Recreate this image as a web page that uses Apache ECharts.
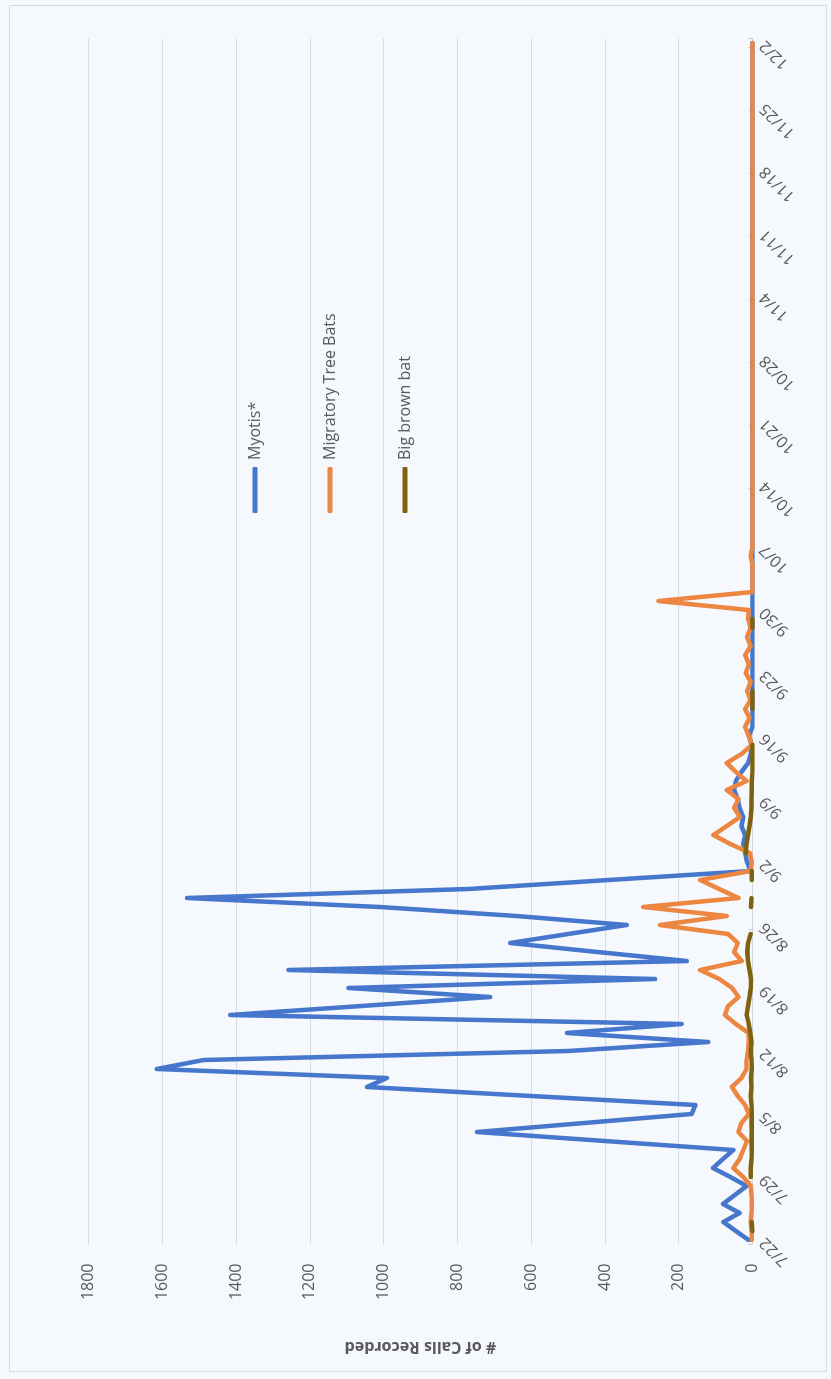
<!DOCTYPE html>
<html>
<head>
<meta charset="utf-8">
<script src="https://cdn.jsdelivr.net/npm/echarts@6/dist/echarts.min.js"></script>
<style>
  html, body { margin: 0; padding: 0; background: #f5f8fd; overflow: hidden; }
  /* The chart is laid out landscape and turned a quarter turn counter-clockwise onto the page */
  #chart {
    position: absolute; left: 0; top: 0;
    width: 1379px; height: 831px;
    transform-origin: 0 0;
    transform: translateY(1379px) rotate(-90deg);
  }
</style>
</head>
<body>
<div id="chart"></div>
<script>
// Nightly survey dates, 7/22 through 12/2
const dates = [
  '7/22','7/23','7/24','7/25','7/26','7/27','7/28','7/29','7/30','7/31',
  '8/1','8/2','8/3','8/4','8/5','8/6','8/7','8/8','8/9','8/10','8/11','8/12','8/13','8/14','8/15','8/16',
  '8/17','8/18','8/19','8/20','8/21','8/22','8/23','8/24','8/25','8/26','8/27','8/28','8/29','8/30','8/31',
  '9/1','9/2','9/3','9/4','9/5','9/6','9/7','9/8','9/9','9/10','9/11','9/12','9/13','9/14','9/15',
  '9/16','9/17','9/18','9/19','9/20','9/21','9/22','9/23','9/24','9/25','9/26','9/27','9/28','9/29','9/30',
  '10/1','10/2','10/3','10/4','10/5','10/6','10/7','10/8','10/9','10/10','10/11','10/12','10/13','10/14',
  '10/15','10/16','10/17','10/18','10/19','10/20','10/21','10/22','10/23','10/24','10/25','10/26','10/27',
  '10/28','10/29','10/30','10/31',
  '11/1','11/2','11/3','11/4','11/5','11/6','11/7','11/8','11/9','11/10','11/11','11/12','11/13','11/14',
  '11/15','11/16','11/17','11/18','11/19','11/20','11/21','11/22','11/23','11/24','11/25','11/26','11/27',
  '11/28','11/29','11/30',
  '12/1','12/2'
];

// Calls recorded per night
const myotis = [
  11, 45, 79, 35, 80, 48, 16, 60, 107, 80,
  52, 400, 747, 456, 165, 155, 600, 1045, 991, 1615, 1488, 500, 120, 503, 192, 1416,
  1060, 711, 1095, 264, 1258, 178, 420, 657, 500, 341, 640, 1010, 1533, 770, 390,
  5, 15, 20, 25, 20, 30, 25, 35, 40, 50, 45, 30, 12, 5, 2,
  10, 0, 0, 0, 0, 0, 0, 0, 0, 0, 0, 0, 0, 0, 0,
  0, 0, 0, 0, 0, 0, 0, 0, 0, 0, 0, 0, 0, 0,
  0, 0, 0, 0, 0, 0, 0, 0, 0, 0, 0, 0, 0,
  0, 0, 0, 0,
  0, 0, 0, 0, 0, 0, 0, 0, 0, 0, 0, 0, 0, 0,
  0, 0, 0, 0, 0, 0, 0, 0, 0, 0, 0, 0, 0,
  0, 0, 0,
  0, 0
];

const migratoryTree = [
  2, 3, 5, 3, 2, 3, 5, 25, 52, 35,
  25, 15, 38, 30, 10, 20, 40, 56, 30, 16, 16, 12, 10, 11, 45, 75,
  66, 38, 55, 90, 142, 29, 50, 40, 66, 251, 70, 296, 38, 90, 142,
  5, 2, 7, 60, 106, 70, 34, 50, 38, 70, 16, 45, 70, 30, 2,
  10, 20, 8, 20, 5, 15, 5, 18, 10, 20, 5, 15, 5, 12, 10,
  255, 0, 0, 0, 0, 5, 0, 0, 0, 0, 0, 0, 0, 0,
  0, 0, 0, 0, 0, 0, 0, 0, 0, 0, 0, 0, 0,
  0, 0, 0, 0,
  0, 0, 0, 0, 0, 0, 0, 0, 0, 0, 0, 0, 0, 0,
  0, 0, 0, 0, 0, 0, 0, 0, 0, 0, 0, 0, 0,
  0, 0, 0,
  0, 0
];

// Nights with no big brown bat record are left empty (gaps in the line)
const bigBrown = [
  null, 0, 2, null, null, null, null, 5, 5, 3,
  2, 3, 2, 3, 2, 3, 5, 3, 4, 2, 3, 5, 3, 6, 10, 16,
  12, 8, 5, 4, 8, 12, 14, 12, 5, null, null, 4, 3, null, 2,
  2, null, 18, 16, 12, 8, 5, 3, 3, 2, 2, 0, 0, 0, 0,
  null, null, null, 0, 0, 0, null, null, null, null, null, null, 0, 0, null,
  null, null, null, null, null, null, null, null, null, null, null, null, null, null,
  null, null, null, null, null, null, null, null, null, null, null, null, null,
  null, null, null, null,
  null, null, null, null, null, null, null, null, null, null, null, null, null, null,
  null, null, null, null, null, null, null, null, null, null, null, null, null,
  null, null, null,
  null, null
];

const seriesNames = ['Myotis*', 'Migratory Tree Bats', 'Big brown bat'];
const seriesColors = ['#4677cd', '#ec8640', '#7f6210'];
const axisTitle = '# of Calls Recorded';

const FONT = '"Open Sans", "Noto Sans", sans-serif';
const TEXT = '#595959';

const chart = echarts.init(document.getElementById('chart'), null, { renderer: 'canvas' });

function lineSeries(name, data, color) {
  return {
    name: name,
    type: 'line',
    data: data,
    symbol: 'none',
    connectNulls: false,
    animation: false,
    lineStyle: { color: color, width: 4.5, cap: 'round', join: 'round' },
    itemStyle: { color: color }
  };
}

chart.setOption({
  backgroundColor: 'transparent',
  animation: false,
  grid: { left: 134.5, right: 38.5, top: 88.5, bottom: 78.5 },
  legend: {
    orient: 'vertical',
    left: 861,
    top: 242,
    icon: 'roundRect',
    itemWidth: 46,
    itemHeight: 5,
    itemGap: 59,
    textStyle: { color: TEXT, fontSize: 16, fontFamily: FONT, padding: [0, 0, 0, 2] },
    data: seriesNames
  },
  xAxis: {
    type: 'category',
    data: dates,
    boundaryGap: true,
    axisLine: { lineStyle: { color: '#d4d4d4', width: 1 } },
    axisTick: { show: true, inside: true, interval: 6, length: 4, lineStyle: { color: '#c8c8c8' } },
    axisLabel: { interval: 6, rotate: 45, margin: 10, color: TEXT, fontSize: 16, fontFamily: FONT },
    splitLine: { show: false }
  },
  yAxis: {
    type: 'value',
    min: 0,
    max: 1800,
    interval: 200,
    axisLine: { show: false },
    axisTick: { show: false },
    axisLabel: {
      margin: 19, color: TEXT, fontSize: 16, fontFamily: FONT,
      formatter: function (v) { return String(v); }
    },
    splitLine: { lineStyle: { color: '#d9dbe3', width: 1 } }
  },
  graphic: [
    {
      type: 'rect',
      shape: { x: 7.5, y: 9.5, width: 1366, height: 817 },
      style: { fill: 'none', stroke: '#d6d9df', lineWidth: 1 },
      silent: true
    },
    {
      type: 'text',
      x: 32,
      y: 420.5,
      rotation: Math.PI / 2,
      style: {
        text: axisTitle,
        fill: TEXT,
        font: 'bold 16px ' + FONT,
        textAlign: 'center',
        textVerticalAlign: 'middle'
      }
    }
  ],
  series: [
    lineSeries(seriesNames[0], myotis, seriesColors[0]),
    lineSeries(seriesNames[1], migratoryTree, seriesColors[1]),
    lineSeries(seriesNames[2], bigBrown, seriesColors[2])
  ]
});
</script>
</body>
</html>
